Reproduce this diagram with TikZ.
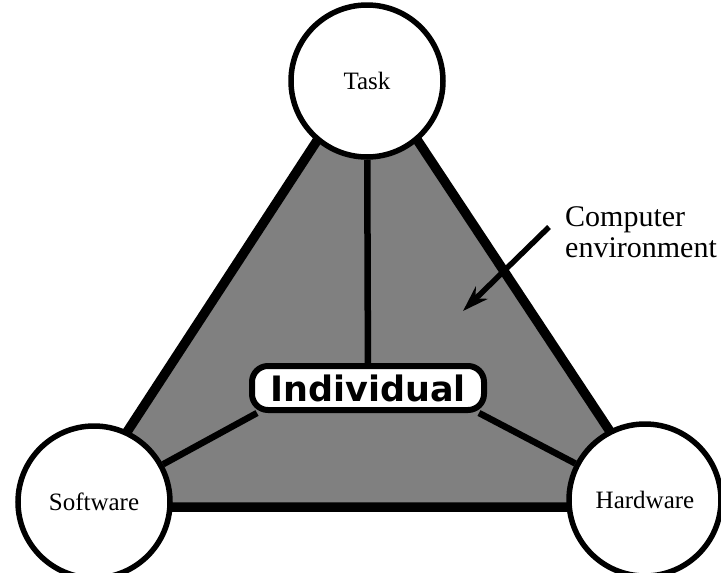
\documentclass[tikz,border=0pt]{standalone}
\usepackage{fontspec}
\setmainfont{Liberation Serif}
\newfontfamily\boxfont{DejaVu Sans}
\usetikzlibrary{arrows.meta}
\colorlet{screen}{black!50}
\tikzstyle{corner}=[circle, draw, fill=white, line width=5.5pt, minimum size=152pt, inner sep=0,
                    font=\fontsize{25}{30}\selectfont]
\tikzstyle{centrebox}=[draw, fill=white, rounded corners=16pt, line width=6pt,
                       minimum width=232pt, minimum height=44pt, inner sep=0,
                       font=\boxfont\bfseries\fontsize{35}{40}\selectfont]
\tikzstyle{rim}=[line width=9.5pt, line join=round]
\tikzstyle{spoke}=[line width=6.5pt]
\tikzstyle{pointer}=[line width=5.5pt, -{Stealth[length=26pt, width=17pt]}]

\begin{document}
\begin{tikzpicture}[x=1pt, y=-1pt]
        \useasboundingbox (0, 0) rectangle (721, 573);
        % the shaded triangle
        \coordinate (apex) at (367, 64);
        \coordinate (bl) at (78, 507);
        \coordinate (br) at (660, 507);
        \filldraw[rim, fill=screen] (apex) -- (bl) -- (br) -- cycle;
        \node[centrebox] (ind) at (368, 388) {Individual};
        \node[corner] (task) at (367, 81) {Task};
        \node[corner] (sw) at (94, 502) {Software};
        \node[corner] (hw) at (645, 500) {Hardware};
        \draw[spoke] (task) -- (ind);
        \draw[spoke] ([xshift=8pt]ind.south west) -- (sw);
        \draw[spoke] ([xshift=-8pt]ind.south east) -- (hw);
        % label with its arrow
        \node[anchor=west, align=left, inner sep=0, font=\fontsize{30}{31}\selectfont] (env) at (565, 232) {Computer\\environment};
        \coordinate (tail) at (549, 227);
        \coordinate (tip) at (463, 311);
        \draw[pointer] (tail) -- (tip);
    \end{tikzpicture}
\end{document}
